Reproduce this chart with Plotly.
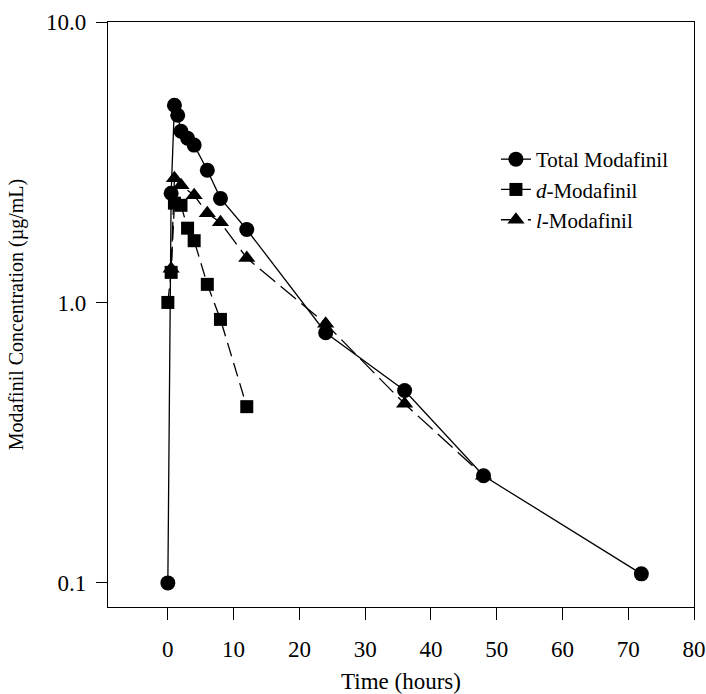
import plotly.graph_objects as go

# Data
total_time = [0, 0.5, 1, 1.5, 2, 3, 4, 6, 8, 12, 24, 36, 48, 72]
total_conc = [0.1, 2.45, 5.05, 4.65, 4.08, 3.85, 3.64, 2.96, 2.35, 1.82, 0.78, 0.485, 0.241, 0.1077]

d_time = [0, 0.5, 1, 2, 3, 4, 6, 8, 12]
d_conc = [1.0, 1.28, 2.26, 2.22, 1.84, 1.66, 1.16, 0.87, 0.425]

l_time = [0.5, 1, 2, 4, 6, 8, 12, 24, 36, 48]
l_conc = [1.32, 2.77, 2.62, 2.41, 2.08, 1.93, 1.44, 0.84, 0.435, 0.241]

y_tickvals = [0.1, 1, 10]
y_ticktext = ["0.1", "1.0", "10.0"]
x_tickvals = [0, 10, 20, 30, 40, 50, 60, 70, 80]

FONT = "Liberation Serif, Times New Roman, serif"

fig = go.Figure()
fig.add_trace(go.Scatter(
    x=total_time, y=total_conc, mode="lines+markers", name="Total Modafinil",
    line=dict(color="black", width=1.3),
    marker=dict(symbol="circle", size=15, color="black"),
))
fig.add_trace(go.Scatter(
    x=d_time, y=d_conc, mode="lines+markers", name="<i>d</i>-Modafinil",
    line=dict(color="black", width=1.3, dash="14px,7px"),
    marker=dict(symbol="square", size=13, color="black"),
))
fig.add_trace(go.Scatter(
    x=l_time, y=l_conc, mode="lines+markers", name="<i>l</i>-Modafinil",
    line=dict(color="black", width=1.3, dash="20px,7px"),
    marker=dict(symbol="triangle-up", size=15, color="black"),
))

fig.update_layout(
    width=706, height=694, autosize=False,
    margin=dict(l=108, r=12, t=22, b=87, autoexpand=False),
    paper_bgcolor="white", plot_bgcolor="white",
    font=dict(family=FONT, color="black", size=23),
    showlegend=True,
    legend=dict(
        x=0.662, y=0.80, xanchor="left", yanchor="top",
        bgcolor="rgba(0,0,0,0)", font=dict(family=FONT, size=21, color="black"),
        tracegroupgap=0, itemsizing="trace",
    ),
    xaxis=dict(
        range=[-9.1, 80], tickvals=x_tickvals, automargin=False,
        showline=True, linecolor="black", linewidth=1.2, mirror=True,
        ticks="outside", ticklen=12, tickcolor="black", tickwidth=1.2,
        ticklabelstandoff=9,
        showgrid=False, zeroline=False,
        title=dict(text="Time (hours)", font=dict(family=FONT, size=23), standoff=20),
        tickfont=dict(family=FONT, size=23),
    ),
    yaxis=dict(
        type="log", range=[-1.086, 1.0], tickvals=y_tickvals, ticktext=y_ticktext,
        automargin=False,
        showline=True, linecolor="black", linewidth=1.2, mirror=True,
        ticks="outside", ticklen=11, tickcolor="black", tickwidth=1.2,
        ticklabelstandoff=5,
        showgrid=False, zeroline=False,
        title=dict(text="Modafinil Concentration (µg/mL)", font=dict(family=FONT, size=20), standoff=17),
        tickfont=dict(family=FONT, size=23),
    ),
)

# Remove the default page margin so the 706x694 figure fills the window exactly.
fig.write_html(
    "out.html",
    config={"displayModeBar": False},
    post_script="document.body.style.margin='0';document.body.style.overflow='hidden';",
)
